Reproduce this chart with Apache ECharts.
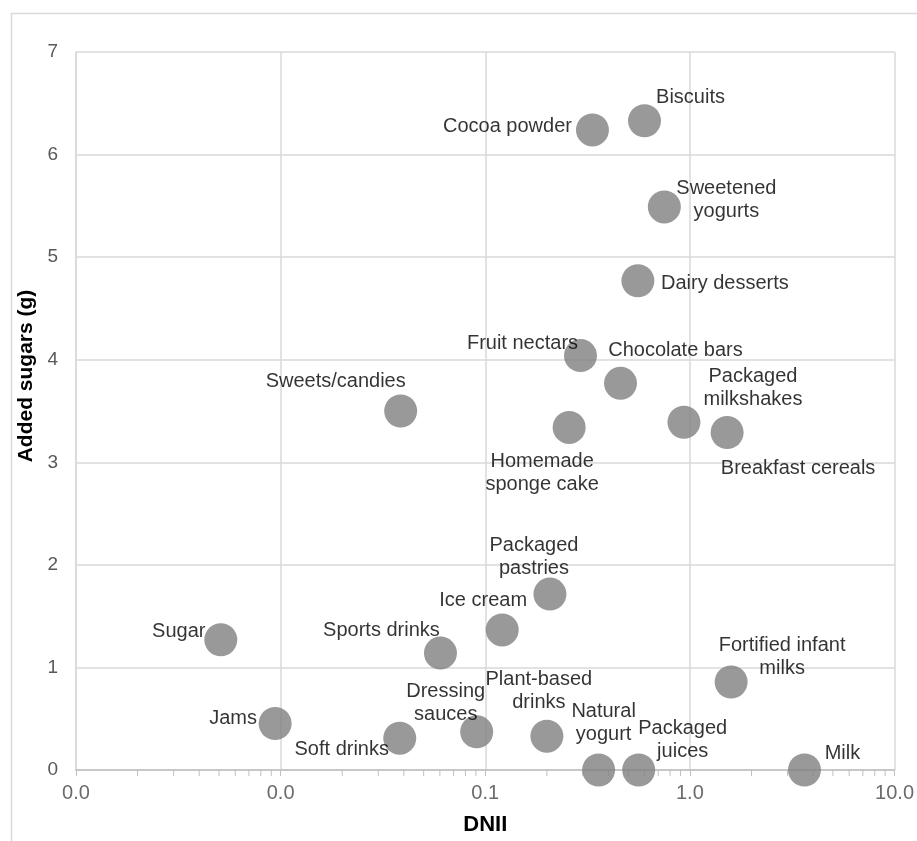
<!DOCTYPE html>
<html>
<head>
<meta charset="utf-8">
<title>Added sugars vs DNII</title>
<script src="https://cdn.jsdelivr.net/npm/echarts@6/dist/echarts.min.js"></script>
<style>
  html, body { margin: 0; padding: 0; background: #fff; }
  #chart { width: 917px; height: 841px; }
</style>
</head>
<body>
<div id="chart"></div>
<script>
// Food groups (line breaks follow the printed labels)
const foods = [
  'Biscuits', 'Cocoa powder', 'Sweetened\nyogurts', 'Dairy desserts',
  'Fruit nectars', 'Chocolate bars', 'Sweets/candies', 'Homemade\nsponge cake',
  'Packaged\nmilkshakes', 'Breakfast cereals', 'Packaged\npastries', 'Ice cream',
  'Sugar', 'Sports drinks', 'Fortified infant\nmilks', 'Jams', 'Soft drinks',
  'Dressing\nsauces', 'Plant-based\ndrinks', 'Natural\nyogurt', 'Packaged\njuices', 'Milk'
];

// DNII (log scale)
const dnii = [
  0.60, 0.334, 0.75, 0.557,
  0.292, 0.458, 0.0386, 0.257,
  0.935, 1.52, 0.207, 0.121,
  0.0051, 0.0604, 1.59, 0.0094, 0.0382,
  0.0908, 0.200, 0.358, 0.562, 3.63
];

// Added sugars (g)
const addedSugars = [
  6.33, 6.24, 5.49, 4.77,
  4.04, 3.77, 3.50, 3.34,
  3.39, 3.29, 1.715, 1.366,
  1.27, 1.14, 0.858, 0.453, 0.31,
  0.372, 0.33, 0, 0, 0
];

// Axis ticks
const xTicks = [0.001, 0.01, 0.1, 1, 10];
const yTicks = [0, 1, 2, 3, 4, 5, 6, 7];

// Minor ticks of the log axis: 2..9 within each decade
const minorTicks = [];
for (let d = 0; d < xTicks.length - 1; d++) {
  for (let k = 2; k <= 9; k++) minorTicks.push(+(k * xTicks[d]).toPrecision(3));
}

// Label placement around each marker (pixel offsets from the marker centre)
const labelOffsets = {
  'Biscuits': [46, -23],
  'Cocoa powder': [-85, -3],
  'Sweetened\nyogurts': [62, -7],
  'Dairy desserts': [87, 3],
  'Fruit nectars': [-58, -12],
  'Chocolate bars': [55, -33],
  'Sweets/candies': [-65, -30],
  'Homemade\nsponge cake': [-27, 46],
  'Packaged\nmilkshakes': [69, -34],
  'Breakfast cereals': [71, 36],
  'Packaged\npastries': [-16, -37],
  'Ice cream': [-19, -29],
  'Sugar': [-42, -8],
  'Sports drinks': [-59, -23],
  'Fortified infant\nmilks': [51, -25],
  'Jams': [-42, -5],
  'Soft drinks': [-58, 11],
  'Dressing\nsauces': [-31, -29],
  'Plant-based\ndrinks': [-8, -45],
  'Natural\nyogurt': [5, -47],
  'Packaged\njuices': [44, -30],
  'Milk': [38, -17]
};

const FONT = '"Liberation Sans", Arial, Helvetica, sans-serif';

const points = foods.map((name, i) => ({
  name: name,
  value: [dnii[i], addedSugars[i]]
}));

const chart = echarts.init(document.getElementById('chart'), null, { renderer: 'canvas' });

chart.setOption({
  backgroundColor: '#ffffff',
  animation: false,
  graphic: [{
    type: 'rect',
    silent: true,
    z: -10,
    shape: { x: 11.5, y: 13.5, width: 1000, height: 1000 },
    style: { fill: 'none', stroke: '#d9d9d9', lineWidth: 1.5 }
  }],
  grid: { left: 76, top: 52, width: 819, height: 724 },
  xAxis: {
    type: 'log',
    logBase: 10,
    min: xTicks[0],
    max: xTicks[xTicks.length - 1],
    name: 'DNII',
    nameLocation: 'middle',
    nameGap: 44,
    nameTextStyle: { fontFamily: FONT, fontSize: 22, fontWeight: 'bold', color: '#000' },
    axisLine: { show: true, lineStyle: { color: '#bfbfbf', width: 1.5 } },
    axisTick: { show: true, inside: false, length: 6, lineStyle: { color: '#bfbfbf' } },
    axisLabel: {
      margin: 13,
      fontFamily: FONT,
      fontSize: 20,
      color: '#6b6b6b',
      formatter: v => Number(v).toFixed(1)
    },
    splitLine: { show: true, lineStyle: { color: '#d9d9d9', width: 1.5 } }
  },
  yAxis: {
    type: 'value',
    min: yTicks[0],
    max: yTicks[yTicks.length - 1],
    interval: 1,
    name: 'Added sugars (g)',
    nameLocation: 'middle',
    nameGap: 28,
    nameTextStyle: {
      fontFamily: FONT, fontSize: 21, fontWeight: 'bold', color: '#000',
      padding: [0, 0, 0, 70]
    },
    axisLine: { show: true, lineStyle: { color: '#d9d9d9', width: 1.5 } },
    axisTick: { show: false },
    axisLabel: { margin: 18, fontFamily: FONT, fontSize: 19, color: '#595959' },
    splitLine: { show: true, lineStyle: { color: '#d9d9d9', width: 1.5 } }
  },
  series: [
    {
      type: 'scatter',
      clip: false,
      symbol: 'circle',
      symbolSize: 33,
      itemStyle: { color: '#7f7f7f' },
      label: {
        show: true,
        position: 'inside',
        align: 'center',
        verticalAlign: 'middle',
        formatter: p => p.name,
        fontFamily: FONT,
        fontSize: 20,
        lineHeight: 23,
        color: '#000',
        textBorderWidth: 0,
        textBorderColor: 'transparent'
      },
      labelLayout: params => {
        const o = labelOffsets[foods[params.dataIndex]] || [0, 0];
        return { dx: o[0], dy: o[1], hideOverlap: false };
      },
      emphasis: { disabled: true },
      data: points,
      z: 5
    },
    {
      // minor ticks under the log axis
      type: 'custom',
      silent: true,
      clip: false,
      data: minorTicks.map(v => [v, 0]),
      renderItem: (params, api) => {
        const p = api.coord([api.value(0), api.value(1)]);
        return {
          type: 'line',
          shape: { x1: p[0], y1: p[1], x2: p[0], y2: p[1] + 6 },
          style: { stroke: '#bfbfbf', lineWidth: 1 }
        };
      },
      z: 1
    }
  ]
});
</script>
</body>
</html>
